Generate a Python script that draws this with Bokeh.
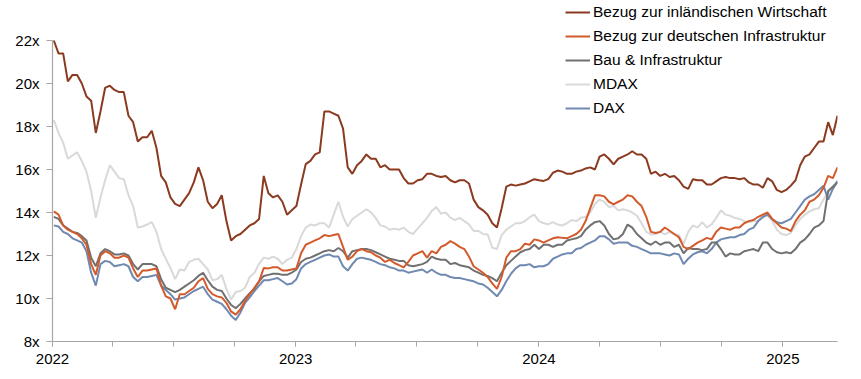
import pandas as pd
from bokeh.plotting import figure
from bokeh.models import (ColumnDataSource, Range1d, FixedTicker, DatetimeTickFormatter,
                          PrintfTickFormatter, Legend, LegendItem)
from bokeh.embed import file_html
from bokeh.resources import INLINE

# weekly observations (Mondays) from 2022-01-03
dates = pd.date_range("2022-01-03", periods=169, freq="7D")

inland = [
    22.0, 21.4, 21.4, 20.1, 20.4, 20.4, 20.0, 19.4, 19.2, 17.7,
    18.7, 19.8, 19.9, 19.7, 19.6, 19.6, 18.5, 18.2, 17.3, 17.5,
    17.5, 17.8, 17.0, 15.7, 15.4, 14.7, 14.4, 14.3, 14.6, 14.9,
    15.4, 16.1, 15.5, 14.5, 14.2, 14.4, 14.8, 13.6, 12.7, 12.9,
    13.0, 13.2, 13.4, 13.5, 13.7, 15.7, 14.9, 14.7, 14.8, 14.5,
    13.9, 14.1, 14.3, 15.3, 16.25, 16.4, 16.7, 16.8, 18.7, 18.7,
    18.6, 18.5, 17.9, 16.1, 15.8, 16.2, 16.4, 16.7, 16.5, 16.5,
    16.1, 16.2, 16.0, 16.0, 16.0, 15.6, 15.35, 15.35, 15.5, 15.55,
    15.8, 15.8, 15.7, 15.65, 15.7, 15.5, 15.4, 15.5, 15.5, 15.35,
    14.6, 14.25, 14.1, 13.9, 13.5, 13.3, 14.2, 15.2, 15.3, 15.25,
    15.3, 15.35, 15.45, 15.55, 15.5, 15.47, 15.55, 15.85, 15.95, 15.9,
    15.8, 15.8, 15.9, 15.95, 16.05, 16.1, 16.0, 16.6, 16.7, 16.5,
    16.24, 16.5, 16.6, 16.7, 16.85, 16.7, 16.7, 16.5, 15.8, 15.9,
    15.7, 15.8, 15.65, 15.7, 15.5, 15.2, 15.1, 15.55, 15.5, 15.5,
    15.3, 15.3, 15.45, 15.6, 15.65, 15.6, 15.6, 15.55, 15.6, 15.4,
    15.3, 15.3, 15.15, 15.6, 15.45, 15.05, 14.95, 15.05, 15.25, 15.5,
    16.2, 16.6, 16.7, 17.0, 17.3, 17.3, 18.2, 17.6, 18.5,
]

infra_de = [
    14.05, 13.9, 13.4, 13.2, 13.1, 13.0, 12.8, 12.5, 11.6, 11.1,
    12.0, 12.2, 12.1, 11.9, 11.9, 12.0, 11.9, 11.4, 11.0, 11.3,
    11.3, 11.35, 11.4, 10.6, 10.1, 10.0, 9.5, 10.2, 10.2, 10.35,
    10.5, 10.8, 10.95, 10.45, 10.2, 10.1, 10.05, 9.8, 9.4, 9.25,
    9.5, 9.9, 10.2, 10.5, 10.8, 11.42, 11.4, 11.45, 11.45, 11.3,
    11.3, 11.35, 11.4, 12.1, 12.5, 12.6, 12.7, 12.8, 12.95, 12.9,
    12.95, 13.0, 12.4, 11.8, 11.95, 12.2, 12.3, 12.2, 12.15, 12.0,
    11.9, 11.7, 11.8, 11.65, 11.55, 11.45, 11.7, 12.0, 12.1, 12.2,
    11.9, 12.2, 12.1, 12.4, 12.5, 12.67, 12.55, 12.4, 12.3, 11.95,
    11.5, 11.35, 11.2, 11.0, 10.7, 10.45, 11.0, 11.9, 12.2, 12.2,
    12.3, 12.55, 12.5, 12.75, 12.7, 12.6, 12.7, 12.8, 12.85, 12.82,
    12.8, 12.9, 13.0, 13.2, 13.6, 14.2, 14.8, 14.8, 14.75, 14.5,
    14.38, 14.5, 14.6, 14.8, 14.75, 14.5, 14.3, 13.8, 13.1, 13.05,
    13.1, 13.3, 13.15, 13.0, 12.85, 12.4, 12.3, 12.45, 12.6, 12.7,
    12.82, 12.75, 13.1, 13.3, 13.25, 13.2, 13.3, 13.3, 13.5, 13.6,
    13.65, 13.8, 13.9, 14.0, 13.7, 13.5, 13.3, 13.25, 13.13, 13.6,
    13.9, 14.1, 14.5, 14.6, 14.8, 15.15, 15.7, 15.6, 16.1,
]

bau = [
    13.8, 13.7, 13.4, 13.25, 13.1, 13.05, 12.9, 12.7, 11.9, 11.5,
    12.1, 12.3, 12.2, 12.05, 12.05, 12.1, 12.0, 11.6, 11.35, 11.6,
    11.6, 11.6, 11.5, 10.9, 10.5, 10.4, 10.3, 10.4, 10.55, 10.7,
    10.85, 11.05, 11.2, 10.85, 10.55, 10.4, 10.35, 10.0, 9.7, 9.55,
    9.75, 10.0, 10.25, 10.45, 10.8, 11.05, 11.1, 11.15, 11.15, 11.1,
    11.1, 11.2, 11.35, 11.7, 11.85, 11.9, 12.0, 12.1, 12.2, 12.25,
    12.2, 12.35, 12.2, 11.9, 12.2, 12.25, 12.3, 12.3, 12.25, 12.15,
    12.05, 11.95, 11.85, 11.8, 11.75, 11.75, 11.55, 11.5, 11.55, 11.6,
    11.7, 11.95, 11.85, 11.8, 11.8, 11.6, 11.65, 11.55, 11.5, 11.45,
    11.3, 11.2, 11.1, 11.05, 10.95, 10.8, 11.2, 11.55, 11.75, 11.95,
    12.15, 12.25, 12.3, 12.5, 12.3, 12.5, 12.5, 12.4, 12.5, 12.5,
    12.7, 12.75, 12.8, 12.9, 13.2, 13.4, 13.55, 13.6, 13.4, 13.0,
    12.75, 12.8, 13.0, 13.44, 13.3, 13.0, 12.8, 12.6, 12.5, 12.65,
    12.5, 12.6, 12.6, 12.4, 12.5, 12.1, 12.35, 12.3, 12.3, 12.25,
    12.3, 12.6, 12.6, 12.3, 11.95, 12.1, 12.05, 12.05, 12.2, 12.25,
    12.3, 12.2, 12.6, 12.6, 12.3, 12.15, 12.1, 12.15, 12.1, 12.3,
    12.6, 12.75, 13.0, 13.3, 13.4, 13.6, 15.0, 15.2, 15.4,
]

mdax = [
    18.3, 17.7, 17.25, 16.5, 16.65, 16.8, 16.4, 15.9, 15.0, 13.75,
    14.7, 15.5, 16.2, 15.9, 15.6, 15.55, 14.8, 14.3, 13.3, 13.35,
    13.44, 13.55, 13.1, 12.3, 11.85, 11.42, 10.9, 11.35, 11.3, 11.7,
    11.8, 11.85, 11.6, 11.35, 10.85, 10.9, 11.1, 10.45, 9.95, 10.3,
    10.35, 10.5, 11.0, 11.2, 11.6, 11.9, 11.85, 11.95, 11.85, 11.6,
    11.8, 11.9, 12.3, 12.9, 13.3, 13.44, 13.4, 13.5, 13.5, 13.3,
    13.9, 14.5, 13.8, 13.35, 13.7, 13.85, 14.0, 14.15, 14.0, 13.75,
    13.4, 13.35, 13.2, 13.25, 13.2, 13.3, 13.1, 13.0, 13.25, 13.5,
    13.75, 14.07, 14.25, 13.95, 14.0, 13.76, 13.65, 13.75, 13.6, 13.45,
    13.14, 13.15, 13.0, 12.98, 12.36, 12.3, 12.95, 13.2, 13.35, 13.5,
    13.5, 13.6, 13.78, 13.9, 13.6, 13.5, 13.45, 13.55, 13.44, 13.4,
    13.5, 13.65, 13.6, 13.76, 13.8, 14.0, 14.4, 14.6, 14.5, 14.25,
    14.3, 14.1, 14.15, 14.1, 14.0, 13.85, 13.5, 13.1, 12.98, 13.0,
    13.1, 12.98, 13.1, 12.98, 12.95, 12.55, 13.1, 13.4, 13.3, 13.55,
    13.3, 13.45, 13.75, 14.1, 13.9, 13.85, 13.75, 13.7, 13.6, 13.55,
    13.6, 13.6, 13.75, 13.9, 13.6, 13.2, 13.0, 12.95, 13.05, 13.4,
    13.7, 13.9, 14.05, 14.15, 14.2, 14.6, 14.95, 15.2, 15.5,
]

dax = [
    13.4, 13.35, 13.1, 13.0, 12.8, 12.7, 12.6, 12.2, 11.2, 10.6,
    11.6, 11.75, 11.7, 11.5, 11.55, 11.6, 11.5, 11.0, 10.8, 11.0,
    11.0, 11.05, 11.1, 10.6, 10.4, 10.2, 9.95, 10.0, 10.05, 10.2,
    10.35, 10.45, 10.55, 10.2, 9.95, 9.85, 9.75, 9.5, 9.2, 9.0,
    9.35, 9.8, 10.05, 10.35, 10.6, 10.85, 10.85, 10.9, 10.95, 10.8,
    10.65, 10.7, 10.9, 11.4, 11.6, 11.7, 11.8, 11.9, 12.0, 12.05,
    11.95, 11.95, 11.5, 11.3, 11.6, 11.85, 11.9, 11.85, 11.8, 11.7,
    11.6, 11.55, 11.45, 11.4, 11.3, 11.3, 11.2, 11.25, 11.3, 11.35,
    11.2, 11.35, 11.2, 11.1, 11.1, 11.0, 10.95, 10.95, 10.9, 10.85,
    10.8, 10.7, 10.65, 10.5, 10.3, 10.1, 10.4, 10.8, 11.15, 11.4,
    11.55, 11.55, 11.6, 11.45, 11.5, 11.5, 11.6, 11.85, 11.95, 12.05,
    12.1, 12.1, 12.3, 12.35, 12.5, 12.6, 12.7, 12.9, 12.9, 12.75,
    12.55, 12.6, 12.6, 12.6, 12.45, 12.4, 12.3, 12.2, 12.1, 12.1,
    12.1, 12.05, 12.0, 12.1, 12.05, 11.6, 11.85, 12.05, 12.15, 12.2,
    12.1, 12.3, 12.6, 12.75, 12.8, 12.85, 12.85, 12.95, 13.0, 13.2,
    13.3, 13.6, 13.8, 13.9, 13.7, 13.55, 13.5, 13.6, 13.7, 14.0,
    14.3, 14.6, 14.75, 14.85, 15.05, 15.25, 14.6, 15.1, 15.45,
]

series_names = [
    "Bezug zur inländischen Wirtschaft",
    "Bezug zur deutschen Infrastruktur",
    "Bau & Infrastruktur",
    "MDAX",
    "DAX",
]
series_colors = ["#8B3A1F", "#D35A2B", "#707070", "#D9D9D9", "#7089B0"]

year_ticks = [pd.Timestamp(f"{y}-01-01") for y in (2022, 2023, 2024, 2025)]
quarter_ticks = list(pd.date_range("2022-01-01", "2025-03-01", freq="QS"))
y_ticks = [8, 10, 12, 14, 16, 18, 20, 22]
y_min, y_max = 8, 22

src = ColumnDataSource(dict(
    date=dates, inland=inland, infra_de=infra_de, bau=bau, mdax=mdax, dax=dax))
cols = ["inland", "infra_de", "bau", "mdax", "dax"]

# frame reaches the top of the canvas so the legend (top right) is not clipped;
# the y axis itself is bounded to 8x..22x
p = figure(width=845, height=371, output_backend="svg", toolbar_location=None,
           x_axis_type="datetime",
           x_range=Range1d(pd.Timestamp("2022-01-01"), pd.Timestamp("2025-03-24")),
           y_range=Range1d(y_min, y_max + 40 / 21.5),
           min_border_left=52, min_border_right=8, min_border_top=0,
           min_border_bottom=30)
p.outline_line_color = None
p.grid.visible = False
p.background_fill_color = "white"
p.border_fill_color = "white"

renderers = {}
order = [3, 4, 2, 1, 0]
for k in order:
    renderers[k] = p.line("date", cols[k], source=src, line_color=series_colors[k],
                          line_width=2.0)

to_ms = lambda t: t.value // 10**6
p.xaxis.ticker = FixedTicker(ticks=[to_ms(t) for t in year_ticks],
                             minor_ticks=[to_ms(t) for t in quarter_ticks])
p.xaxis.formatter = DatetimeTickFormatter(years="%Y", months="%Y", days="%Y",
                                          hours="%Y", minutes="%Y", seconds="%Y",
                                          milliseconds="%Y")
p.yaxis.ticker = FixedTicker(ticks=y_ticks, minor_ticks=[])
p.yaxis.formatter = PrintfTickFormatter(format="%dx")
p.yaxis.bounds = (y_min, y_max)

for ax in (p.xaxis[0], p.yaxis[0]):
    ax.axis_line_color = "#A6A6A6"
    ax.axis_line_width = 1.2
    ax.major_tick_line_color = "#A6A6A6"
    ax.minor_tick_line_color = "#A6A6A6"
    ax.major_tick_in = 0
    ax.minor_tick_in = 0
    ax.major_label_text_font = "Liberation Sans"
    ax.major_label_text_font_size = "15px"
    ax.major_label_text_color = "#000000"
p.xaxis.major_tick_out = 5
p.xaxis.minor_tick_out = 5
p.xaxis.major_label_standoff = 7
p.yaxis.major_tick_out = 6
p.yaxis.minor_tick_line_color = None
p.yaxis.major_label_standoff = 7

legend = Legend(
    items=[LegendItem(label=series_names[k], renderers=[renderers[k]]) for k in range(5)],
    location=(513, 223),
    orientation="vertical",
    background_fill_alpha=0, border_line_alpha=0,
    padding=0, margin=0, spacing=4,
    glyph_width=25, glyph_height=20, label_height=20,
    label_standoff=3,
    label_text_font="Liberation Sans", label_text_font_size="15.5px",
    label_text_color="#000000",
)
p.add_layout(legend)

open("out.html", "w").write(file_html(p, INLINE))
